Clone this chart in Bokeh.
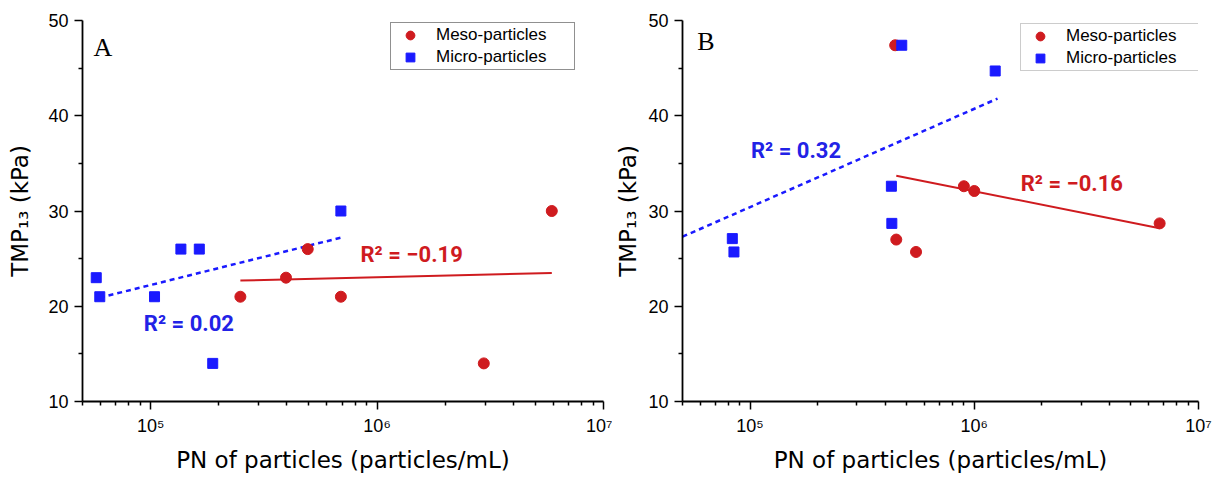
from bokeh.plotting import figure
from bokeh.layouts import row
from bokeh.models import FixedTicker, Range1d, Legend, LegendItem, Label
from bokeh.embed import file_html
from bokeh.resources import INLINE

# ---------------- data ----------------
# Panel A
a_meso_x = [2.49e5, 3.96e5, 4.94e5, 6.92e5, 2.96e6, 5.91e6]
a_meso_y = [21, 23, 26, 21, 14, 30]
a_micro_x = [5.75e4, 5.96e4, 1.04e5, 1.36e5, 1.64e5, 1.88e5, 6.92e5]
a_micro_y = [23, 21, 21, 26, 26, 14, 30]
a_meso_fit_x = [2.49e5, 5.91e6]
a_meso_fit_y = [22.7, 23.5]
a_micro_fit_x = [5.96e4, 6.92e5]
a_micro_fit_y = [20.9, 27.2]
a_meso_r2 = "R\u00b2 = \u22120.19"
a_micro_r2 = "R\u00b2 = 0.02"

# Panel B
b_meso_x = [4.44e5, 4.49e5, 5.50e5, 8.99e5, 1.00e6, 6.71e6]
b_meso_y = [47.4, 27.0, 25.7, 32.6, 32.1, 28.7]
b_micro_x = [4.75e5, 1.24e6, 4.27e5, 4.29e5, 8.34e4, 8.48e4]
b_micro_y = [47.4, 44.7, 32.6, 28.7, 27.1, 25.7]
b_meso_fit_x = [4.49e5, 6.71e6]
b_meso_fit_y = [33.7, 28.2]
b_micro_fit_x = [5.0e4, 1.27e6]
b_micro_fit_y = [27.3, 41.8]
b_meso_r2 = "R\u00b2 = \u22120.16"
b_micro_r2 = "R\u00b2 = 0.32"

x_ticks = [1e5, 1e6, 1e7]
x_tick_labels = ["10\u2075", "10\u2076", "10\u2077"]
x_minor = [m * 10 ** e for e in (4, 5, 6) for m in range(2, 10) if m * 10 ** e >= 5e4]
y_ticks = [10, 20, 30, 40, 50]
y_minor = [15, 25, 35, 45]

RED = "#cf1b1f"
BLUE = "#1a1aff"
BLUE_TXT = "#2222e6"
FONT = "Liberation Sans"
LABEL_FONT = "DejaVu Sans"


def make_panel(width, left, right, letter, letter_pos,
               meso_x, meso_y, micro_x, micro_y,
               mfx, mfy, ufx, ufy, meso_lbl, micro_lbl, meso_lpos, micro_lpos,
               legend_loc, legend_border, ylabel_standoff):
    p = figure(width=width, height=480, x_axis_type="log",
               x_range=Range1d(5e4, 1e7), y_range=Range1d(10, 50),
               output_backend="svg", toolbar_location=None,
               min_border_left=left, min_border_right=right,
               min_border_top=20, min_border_bottom=79)
    p.outline_line_color = None
    p.xgrid.visible = False
    p.ygrid.visible = False
    p.background_fill_color = "white"
    p.border_fill_color = "white"

    p.xaxis.ticker = FixedTicker(ticks=x_ticks, minor_ticks=x_minor)
    p.xaxis.major_label_overrides = {int(t): l for t, l in zip(x_ticks, x_tick_labels)}
    p.yaxis.ticker = FixedTicker(ticks=y_ticks, minor_ticks=y_minor)

    for ax in (p.xaxis[0], p.yaxis[0]):
        ax.axis_line_width = 1.8
        ax.axis_line_color = "black"
        ax.major_tick_line_color = "black"
        ax.minor_tick_line_color = "black"
        ax.major_tick_line_width = 1.5
        ax.minor_tick_line_width = 1.5
        ax.major_tick_out = 8
        ax.major_tick_in = 0
        ax.minor_tick_out = 4
        ax.minor_tick_in = 0
        ax.major_label_text_font = FONT
        ax.major_label_text_font_size = "18px"
        ax.major_label_text_color = "black"
        ax.axis_label_text_font = LABEL_FONT
        ax.axis_label_text_font_style = "normal"
        ax.axis_label_text_color = "black"
    p.xaxis.axis_label = "PN of particles (particles/mL)"
    p.xaxis.axis_label_text_font_size = "23px"
    p.xaxis.major_label_standoff = 6
    p.xaxis.axis_label_standoff = 8
    p.yaxis.axis_label = "TMP\u2081\u2083 (kPa)"
    p.yaxis.axis_label_text_font_size = "23px"
    p.yaxis.major_label_standoff = 6
    p.yaxis.axis_label_standoff = ylabel_standoff

    # fit lines
    p.line(mfx, mfy, line_color=RED, line_width=2)
    p.line(ufx, ufy, line_color=BLUE, line_width=2.5, line_dash="5 4")

    r_meso = p.scatter(meso_x, meso_y, marker="circle", size=11,
                       fill_color=RED, line_color=RED)
    r_micro = p.scatter(micro_x, micro_y, marker="square", size=10,
                        fill_color=BLUE, line_color=BLUE)

    # R^2 labels
    p.add_layout(Label(x=micro_lpos[0], y=micro_lpos[1], text=micro_lbl,
                       text_font="Roboto", text_font_style="bold",
                       text_font_size="22px", text_color=BLUE_TXT,
                       text_baseline="middle", text_align="left"))
    p.add_layout(Label(x=meso_lpos[0], y=meso_lpos[1], text=meso_lbl,
                       text_font="Roboto", text_font_style="bold",
                       text_font_size="22px", text_color=RED,
                       text_baseline="middle", text_align="left"))
    # panel letter
    p.add_layout(Label(x=letter_pos[0], y=letter_pos[1], text=letter,
                       text_font="Liberation Serif", text_font_size="26px",
                       text_color="black", text_baseline="alphabetic",
                       text_align="left"))

    legend = Legend(items=[LegendItem(label="Meso-particles", renderers=[r_meso]),
                           LegendItem(label="Micro-particles", renderers=[r_micro])],
                    location=legend_loc, orientation="vertical")
    legend.label_text_font = FONT
    legend.label_text_font_size = "17px"
    legend.label_text_color = "black"
    legend.border_line_color = legend_border
    legend.border_line_width = 1.5
    legend.background_fill_alpha = 1
    legend.padding = 1
    legend.margin = 0
    legend.spacing = 0
    legend.glyph_width = 36
    legend.glyph_height = 22
    legend.label_height = 22
    legend.label_standoff = 8
    legend.label_width = 137
    p.add_layout(legend)
    return p


pA = make_panel(612, 82, 9, "A", (5.59e4, 47.2),
                a_meso_x, a_meso_y, a_micro_x, a_micro_y,
                a_meso_fit_x, a_meso_fit_y, a_micro_fit_x, a_micro_fit_y,
                a_meso_r2, a_micro_r2, (8.45e5, 25.4), (9.33e4, 18.2),
                (308, 331), "#222222", 12)
pB = make_panel(609, 65, 23, "B", (5.82e4, 47.8),
                b_meso_x, b_meso_y, b_micro_x, b_micro_y,
                b_meso_fit_x, b_meso_fit_y, b_micro_fit_x, b_micro_fit_y,
                b_meso_r2, b_micro_r2, (1.61e6, 32.9), (1.01e5, 36.4),
                (338, 330), "#999999", 4)

layout = row(pA, pB, spacing=0)
open("out.html", "w").write(file_html(layout, INLINE))
